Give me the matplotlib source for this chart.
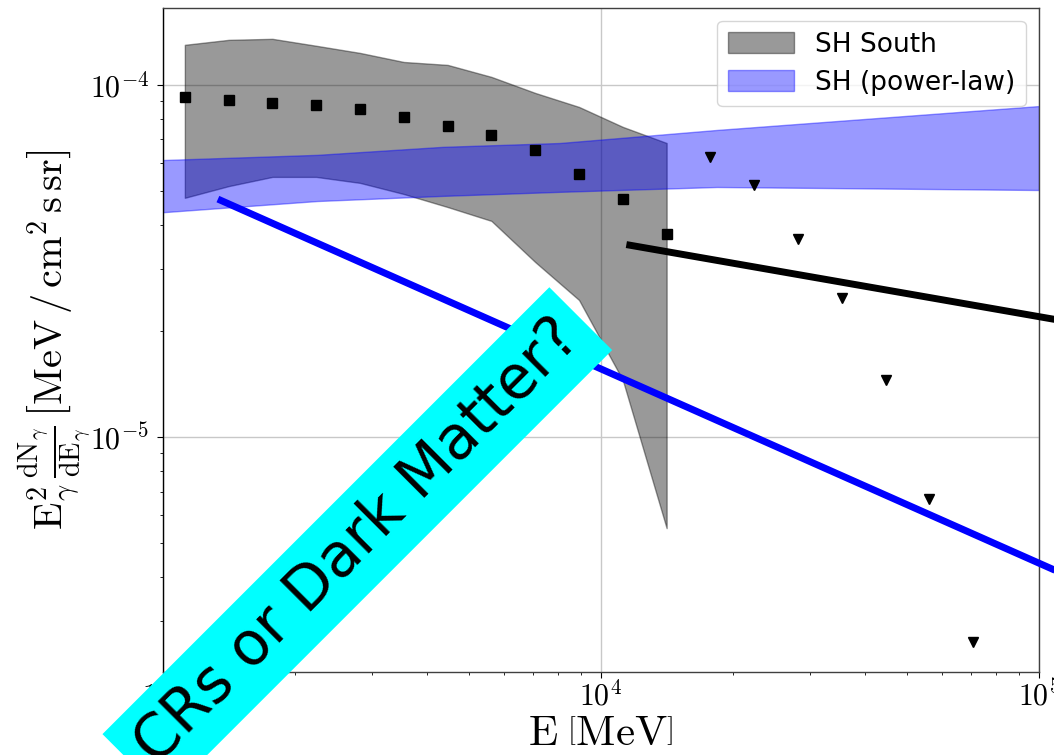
import matplotlib
matplotlib.use('Agg')
import matplotlib.pyplot as plt
from matplotlib.ticker import FuncFormatter, LogLocator, NullFormatter
import numpy as np

plt.rcParams['mathtext.fontset'] = 'cm'
plt.rcParams['font.family'] = ['DejaVu Sans']

# ---- data ----
south_E = [1122, 1413, 1778, 2239, 2818, 3548, 4467, 5623, 7079, 8913, 11220, 14125]
south_flux = [9.23e-5, 9.07e-5, 8.91e-5, 8.75e-5, 8.56e-5, 8.09e-5, 7.65e-5,
              7.21e-5, 6.53e-5, 5.57e-5, 4.75e-5, 3.77e-5]
south_band_hi = [1.300e-4, 1.343e-4, 1.352e-4, 1.292e-4, 1.233e-4, 1.162e-4,
                 1.140e-4, 1.054e-4, 9.49e-5, 8.66e-5, 7.60e-5, 6.84e-5]
south_band_lo = [4.78e-5, 5.16e-5, 5.48e-5, 5.48e-5, 5.27e-5, 4.90e-5,
                 4.50e-5, 4.11e-5, 3.14e-5, 2.45e-5, 1.45e-5, 5.51e-6]
ul_E = [17783, 22387, 28184, 35481, 44668, 56234, 70795]
ul_flux = [6.23e-5, 5.20e-5, 3.64e-5, 2.49e-5, 1.452e-5, 6.67e-6, 2.61e-6]
pl_E = [1000, 2250, 4350, 8050, 18400, 100000]
pl_hi = [6.12e-5, 6.33e-5, 6.67e-5, 6.84e-5, 7.45e-5, 8.71e-5]
pl_lo = [4.35e-5, 4.68e-5, 4.84e-5, 4.97e-5, 5.13e-5, 5.03e-5]
blue_line_E = [1335, 200000]
blue_line_flux = [4.74e-5, 2.99e-6]
black_line_E = [11430, 200000]
black_line_flux = [3.52e-5, 1.89e-5]

legend_labels = ['SH South', 'SH (power-law)']
annotation = 'CRs or Dark Matter?'

fig = plt.figure(figsize=(10.54, 7.55), dpi=100)
ax = fig.add_axes([0.1546, 0.1099, 0.8311, 0.8795])

ax.fill_between(south_E, south_band_lo, south_band_hi, color='k', alpha=0.4,
                label=legend_labels[0], zorder=2)
ax.fill_between(pl_E, pl_lo, pl_hi, color='blue', alpha=0.4,
                label=legend_labels[1], zorder=2)
ax.plot(south_E, south_flux, ls='none', marker='s', ms=7, color='k', zorder=4)
ax.plot(ul_E, ul_flux, ls='none', marker='v', ms=7.5, color='k', zorder=4)
ax.plot(blue_line_E, blue_line_flux, color='blue', lw=5, zorder=5, clip_on=False,
        solid_capstyle='butt')
ax.plot(black_line_E, black_line_flux, color='black', lw=5, zorder=5, clip_on=False,
        solid_capstyle='butt')

ax.set_xscale('log')
ax.set_yscale('log')
ax.set_xlim(1e3, 1e5)
ax.set_ylim(2.15e-6, 1.654e-4)

fmt = FuncFormatter(lambda v, p: r'$10^{%d}$' % int(round(np.log10(v))))
ax.xaxis.set_major_formatter(fmt)
ax.yaxis.set_major_formatter(fmt)
ax.xaxis.set_minor_formatter(NullFormatter())
ax.yaxis.set_minor_formatter(NullFormatter())
ax.yaxis.set_minor_locator(LogLocator(base=10, subs=np.arange(2, 10)))
ax.tick_params(axis='both', which='major', labelsize=21.5, length=4, direction='out')
ax.tick_params(axis='both', which='minor', length=2.5, direction='out')
ax.tick_params(axis='x', which='major', pad=2)
ax.tick_params(axis='y', which='major', pad=6)
ax.grid(True, which='major', color='#c8c8c8', lw=1, zorder=0)
ax.set_axisbelow(True)
for s in ax.spines.values():
    s.set_color('0.25')
    s.set_linewidth(1.0)
ax.spines['left'].set_color('black')

ax.set_xlabel(r'$\mathrm{E}\;\left[\mathrm{MeV}\right]$', fontsize=31, labelpad=0)
ax.set_ylabel(r'$\mathrm{E}_\gamma^2\,\frac{\mathrm{dN}_\gamma}{\mathrm{dE}_\gamma}\,'
              r'\left[\mathrm{MeV}\,/\,\mathrm{cm}^2\,\mathrm{s}\,\mathrm{sr}\right]$',
              fontsize=29)
ax.yaxis.set_label_coords(-0.08, 0.5)

ax.legend(loc='upper right', fontsize=19, handlelength=2.5, handleheight=0.8,
          labelspacing=0.45)

fig.text(0.339, 0.282, annotation, rotation=45, ha='center', va='center',
         rotation_mode='anchor', fontsize=43, color='black',
         bbox=dict(boxstyle='square,pad=0.25', fc='cyan', ec='none'), zorder=10)

fig.savefig('out.png', dpi=100)
